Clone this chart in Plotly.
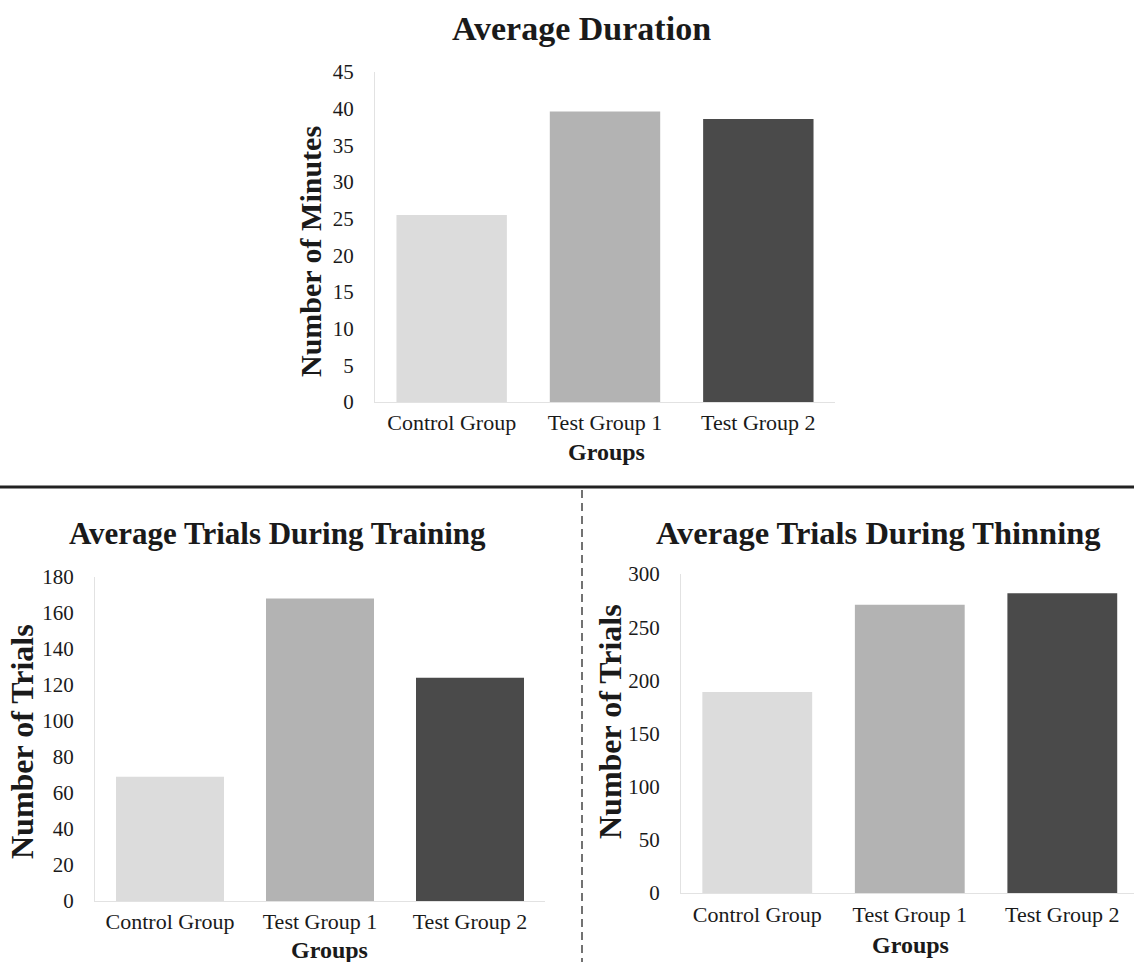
import plotly.graph_objects as go

# Group labels and per-group averages
groups = ["Control Group", "Test Group 1", "Test Group 2"]
avg_duration_minutes = [25.5, 39.6, 38.6]
avg_trials_training = [69, 168, 124]
avg_trials_thinning = [189, 271, 282]

bar_colors = ["#dcdcdc", "#b3b3b3", "#4a4a4a"]

W, H = 1134, 962
SERIF = "Liberation Serif, Times New Roman, serif"
INK = "#1a1a1a"


def px_x(x):
    return x / W


def px_y(y):
    return 1 - y / H


fig = go.Figure()

panels = [
    ("x", "y", avg_duration_minutes),
    ("x2", "y2", avg_trials_training),
    ("x3", "y3", avg_trials_thinning),
]
for xa, ya, vals in panels:
    fig.add_trace(go.Bar(
        x=groups, y=vals, xaxis=xa, yaxis=ya,
        marker=dict(color=bar_colors, line=dict(width=0)),
        width=0.72, showlegend=False, hoverinfo="x+y",
    ))

y_tick_font = dict(family=SERIF, size=21, color=INK)
x_tick_font = dict(family=SERIF, size=22, color=INK)
axis_line = "#e2e2e2"


def x_axis(domain, rng, anchor, standoff):
    return dict(
        domain=domain, range=rng, anchor=anchor, type="category",
        showgrid=False, zeroline=False, showline=True, linecolor=axis_line,
        linewidth=1, ticks="", tickfont=x_tick_font, ticklabelstandoff=standoff,
        fixedrange=True,
    )


def y_axis(domain, rng, dtick, anchor, standoff):
    return dict(
        domain=domain, range=rng, dtick=dtick, anchor=anchor,
        showgrid=False, zeroline=False, showline=True, linecolor=axis_line,
        linewidth=1, ticks="", tickfont=y_tick_font, ticklabelstandoff=standoff,
        fixedrange=True,
    )


fig.update_layout(
    width=W, height=H,
    margin=dict(l=0, r=0, t=0, b=0, autoexpand=False),
    paper_bgcolor="white", plot_bgcolor="white",
    xaxis=x_axis([px_x(375), px_x(835)], [-0.5, 2.5], "y", 1),
    yaxis=y_axis([px_y(402), px_y(72)], [0, 45], 5, "x", 16),
    xaxis2=x_axis([px_x(95), px_x(545)], [-0.5, 2.5], "y2", 1),
    yaxis2=y_axis([px_y(901), px_y(577)], [0, 180], 20, "x2", 16),
    xaxis3=x_axis([px_x(681), 1.0], [-0.5, 2.47], "y3", 2),
    yaxis3=y_axis([px_y(893), px_y(574)], [0, 300], 50, "x3", 16),
)


def bold(size):
    return dict(family=SERIF, size=size, color=INK, weight="bold")


# (text, centre x px, centre y px, angle, font)
texts = [
    ("Average Duration", 581, 28, 0, bold(34)),
    ("Average Trials During Training", 277, 533, 0, bold(31)),
    ("Average Trials During Thinning", 878, 533, 0, bold(32.5)),
    ("Number of Minutes", 310, 252, -90, bold(30)),
    ("Number of Trials", 22, 742, -90, bold(32)),
    ("Number of Trials", 610, 722, -90, bold(32)),
    ("Groups", 606, 452, 0, bold(24)),
    ("Groups", 329, 950, 0, bold(24)),
    ("Groups", 910, 945, 0, bold(24)),
]
for text, x, y, ang, font in texts:
    fig.add_annotation(
        text=text, xref="paper", yref="paper", x=px_x(x), y=px_y(y),
        xanchor="center", yanchor="middle", textangle=ang,
        showarrow=False, font=font,
    )

# Separator between the top chart and the bottom pair
fig.add_shape(type="line", xref="paper", yref="paper",
              x0=0, x1=1, y0=px_y(487), y1=px_y(487),
              line=dict(color="#222222", width=3))
# Dashed divider between the two bottom charts
fig.add_shape(type="line", xref="paper", yref="paper",
              x0=px_x(582), x1=px_x(582), y0=px_y(490), y1=0,
              line=dict(color="#444444", width=1.5, dash="8px,5px"))

fig.write_html("out.html")
